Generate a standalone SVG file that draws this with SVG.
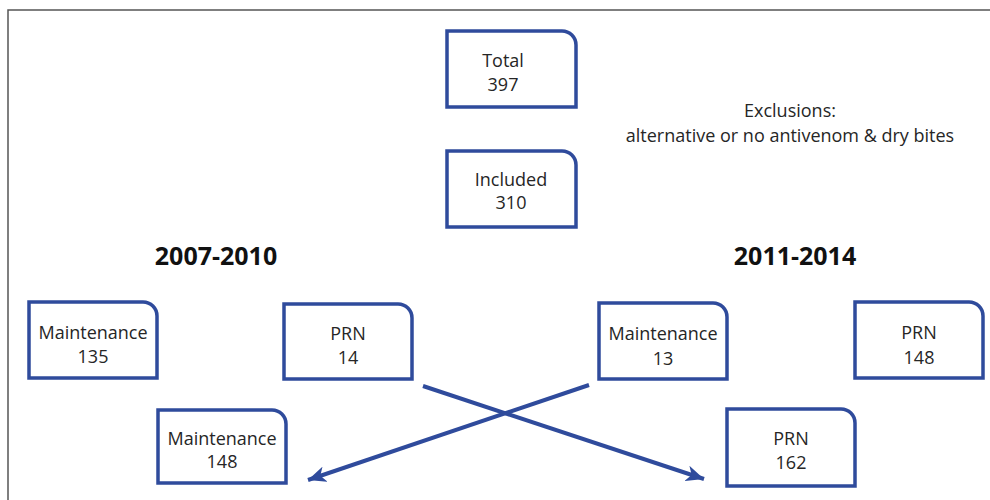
<svg xmlns="http://www.w3.org/2000/svg" width="990" height="500" viewBox="0 0 990 500">
<style>
.box{fill:#fff;stroke:#2F4B9C;stroke-width:3.5}
.t{font-family:"Open Sans","Liberation Sans",sans-serif;font-size:18px;fill:#262626;text-anchor:middle}
.h{font-family:"Open Sans","Liberation Sans",sans-serif;font-size:25px;font-weight:bold;fill:#111;text-anchor:middle}
.ex{font-family:"Open Sans","Liberation Sans",sans-serif;font-size:18px;fill:#262626;text-anchor:middle}
.conn{stroke:#2F4B9C;stroke-width:4;fill:none}
</style>
<defs>
<marker id="arr" markerUnits="userSpaceOnUse" markerWidth="20" markerHeight="16" refX="18" refY="8" orient="auto">
<path d="M0,0 L18,8 L0,16 L5,8 Z" fill="#2F4B9C"/>
</marker>
</defs>
<rect width="990" height="500" fill="#fff"/>
<path d="M8,500 V10 H990" fill="none" stroke="#555" stroke-width="1.5"/>
<g id="total">
<path class="box" d="M447,31 H562 A14,14 0 0 1 576,45 V107 H447 Z"/>
<text class="t" x="503" y="67">Total</text>
<text class="t" x="503" y="91">397</text>
</g>
<g id="included">
<path class="box" d="M447,151 H562 A14,14 0 0 1 576,165 V227 H447 Z"/>
<text class="t" x="511" y="186">Included</text>
<text class="t" x="511" y="209">310</text>
</g>
<g id="exclusions">
<text class="ex" x="790" y="117">Exclusions:</text>
<text class="ex" x="790" y="142">alternative or no antivenom &amp; dry bites</text>
</g>
<text class="h" x="216" y="265">2007-2010</text>
<text class="h" x="795" y="265">2011-2014</text>
<g id="m135">
<path class="box" d="M29,302 H143 A14,14 0 0 1 157,316 V378 H29 Z"/>
<text class="t" x="93" y="339">Maintenance</text>
<text class="t" x="93" y="363">135</text>
</g>
<g id="prn14">
<path class="box" d="M284,304 H398 A14,14 0 0 1 412,318 V379 H284 Z"/>
<text class="t" x="348" y="340">PRN</text>
<text class="t" x="348" y="364">14</text>
</g>
<g id="m13">
<path class="box" d="M599,303 H713 A14,14 0 0 1 727,317 V379 H599 Z"/>
<text class="t" x="663" y="340">Maintenance</text>
<text class="t" x="663" y="365">13</text>
</g>
<g id="prn148">
<path class="box" d="M855,302 H969 A14,14 0 0 1 983,316 V378 H855 Z"/>
<text class="t" x="919" y="339">PRN</text>
<text class="t" x="919" y="364">148</text>
</g>
<g id="m148">
<path class="box" d="M158,410 H272 A14,14 0 0 1 286,424 V483 H158 Z"/>
<text class="t" x="222" y="445">Maintenance</text>
<text class="t" x="222" y="468">148</text>
</g>
<g id="prn162">
<path class="box" d="M727,409 H841 A14,14 0 0 1 855,423 V486 H727 Z"/>
<text class="t" x="791" y="445">PRN</text>
<text class="t" x="791" y="469">162</text>
</g>
<g id="connectors">
<line class="conn" x1="423" y1="386" x2="704" y2="479" marker-end="url(#arr)"/>
<line class="conn" x1="589" y1="385" x2="308" y2="480" marker-end="url(#arr)"/>
</g>
</svg>
